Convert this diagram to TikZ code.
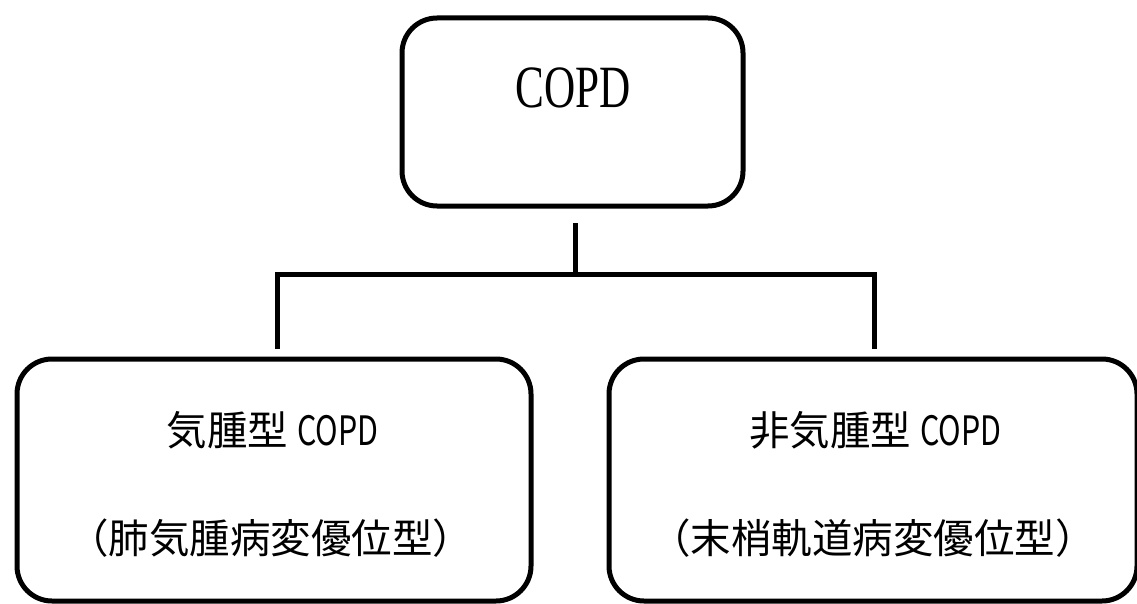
\documentclass[tikz,border=0pt]{standalone}
\usepackage{fontspec}
\newfontfamily\jpfont{Noto Sans CJK JP}
\newfontfamily\jplatin[FakeStretch=0.75]{Noto Sans CJK JP}
\newfontfamily\serifcond[FakeStretch=0.72]{Liberation Serif}
\begin{document}
\begin{tikzpicture}[x=1pt,y=-1pt,
  box/.style={draw=black,line width=5pt,rounded corners=35pt,inner sep=0pt,fill=white},
  conn/.style={draw=black,line width=5pt,line join=miter},
  toptext/.style={anchor=base,inner sep=0pt,font=\serifcond\fontsize{60}{70}\selectfont},
  jptext/.style={anchor=base,inner sep=0pt,font=\jpfont\fontsize{40.5}{48}\selectfont}]
\useasboundingbox (0,0) rectangle (1137,604);
\fill[white] (0,0) rectangle (1137,604);
% boxes
\node[box,minimum width=341pt,minimum height=188pt] (top) at (572.5,112) {};
\node[box,minimum width=514pt,minimum height=242pt] (left) at (274,480) {};
\node[box,minimum width=528pt,minimum height=242pt] (right) at (873,480) {};
% texts
\node[toptext] (toplabel) at (573,108) {COPD};
\node[jptext] (leftA) at (272.5,445) {気腫型 {\jplatin COPD}};
\node[jptext] (leftB) at (270.5,553) {（肺気腫病変優位型）};
\node[jptext] (rightA) at (875.5,445) {非気腫型 {\jplatin COPD}};
\node[jptext] (rightB) at (873,553) {（末梢軌道病変優位型）};
% connectors
\coordinate (stemtop) at (575,223);
\coordinate (junction) at (575,274);
\coordinate (ltop) at (277,274);
\coordinate (lbot) at (277,349);
\coordinate (rtop) at (874,274);
\coordinate (rbot) at (874,349);
\draw[conn] (stemtop) -- (junction);
\draw[conn] (lbot) -- (ltop) -- (rtop) -- (rbot);
\end{tikzpicture}
\end{document}
